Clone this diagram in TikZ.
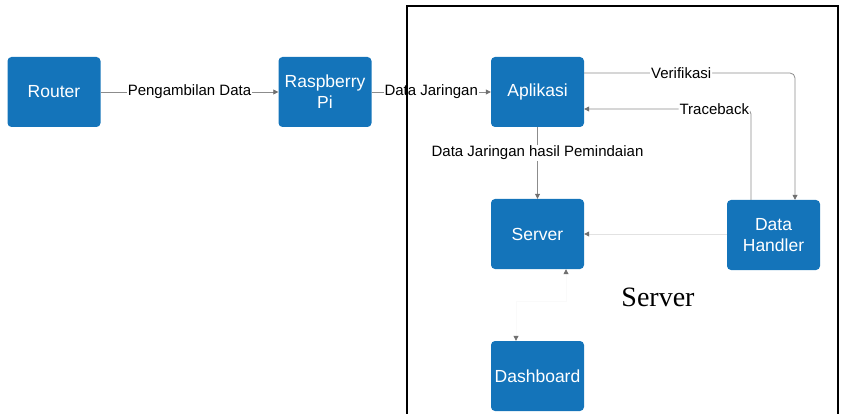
\documentclass[tikz,border=0pt]{standalone}
\usepackage{fontspec}
\setmainfont{Liberation Sans}
\newfontfamily\seriffont{Liberation Serif}
\usetikzlibrary{arrows.meta, positioning}
\definecolor{boxblue}{RGB}{20,116,186}
\definecolor{linegray}{RGB}{140,140,140}
\tikzset{
    >={Triangle[length=5pt, width=5pt, color=linegray!80!black]}, % small grey arrow heads
    every node/.style={font=\fontsize{15}{17}\selectfont}, % default text size
    block/.style={fill=boxblue, text=white, rounded corners=4pt, minimum width=93pt, minimum height=70pt, inner sep=0pt, align=center, font=\fontsize{17.5}{21}\selectfont}, % the blue boxes
    link/.style={->, draw=linegray, line width=0.8pt}, % connectors
    lbl/.style={fill=white, inner sep=1pt}, % text sitting on a connector
}

\begin{document}
\begin{tikzpicture}[x=1pt, y=-1pt]
    \useasboundingbox (0,0) rectangle (843,414);
    \node[block] (router) at (54,92) {Router};
    \node[block] (raspi) at (325,92) {Raspberry\\Pi};
    \node[block] (aplikasi) at (537.5,92) {Aplikasi};
    \node[block] (server) at (537.5,234) {Server};
    \node[block] (handler) at (773.5,235) {Data\\Handler};
    \node[block] (dashboard) at (537.5,376) {Dashboard};
    \node[font=\seriffont\fontsize{28}{32}\selectfont] (srvlabel) at (658,297) {Server};
    \draw[link]
    (router) edge node[lbl]{Pengambilan Data} (raspi)
    (raspi) edge node[lbl]{Data Jaringan} (aplikasi)
    (aplikasi) edge node[lbl, pos=0.36]{Data Jaringan hasil Pemindaian} (server);
    \draw[link, rounded corners=5pt] ([yshift=19pt]aplikasi.east) -| node[lbl, pos=0.23]{Verifikasi} ([xshift=21.5pt]handler.north);
    \draw[link, rounded corners=5pt] ([xshift=-22.5pt]handler.north) |- node[lbl, pos=0.61]{Traceback} ([yshift=-17pt]aplikasi.east);
    \draw[link, draw=linegray!25] (handler.west |- server.east) -- (server.east);
    \draw[<->, draw=linegray!4, line width=0.8pt] ([xshift=28.5pt]server.south) -- ++(0,32) -| ([xshift=-21.5pt]dashboard.north);
    % frame of the server part
    \draw[line width=1.8pt] (407,420) -- (407,6) -- (838,6) -- (838,420);
\end{tikzpicture}
\end{document}
